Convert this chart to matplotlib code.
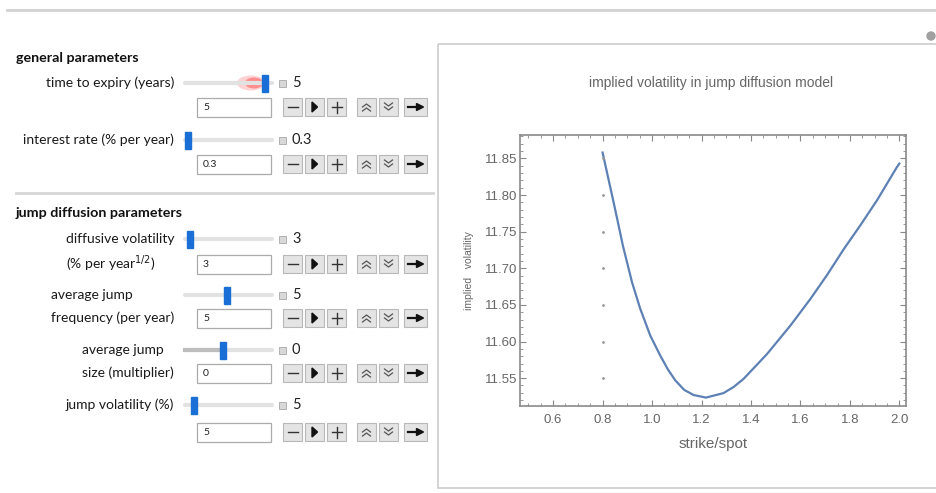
import matplotlib
matplotlib.use("Agg")
import matplotlib.pyplot as plt
from matplotlib.patches import Rectangle, Ellipse
from matplotlib.ticker import MultipleLocator

# Daten der Kurve
strike = [0.80, 0.84, 0.86, 0.882, 0.919, 0.952, 0.993, 1.033, 1.064, 1.094,
          1.13, 1.168, 1.218, 1.289, 1.33, 1.37, 1.465, 1.56, 1.64, 1.708,
          1.775, 1.843, 1.91, 1.99, 2.0]
impvol = [11.858, 11.797, 11.766, 11.731, 11.681, 11.645, 11.608, 11.581,
          11.562, 11.547, 11.534, 11.527, 11.5235, 11.5296, 11.538, 11.549,
          11.583, 11.622, 11.658, 11.691, 11.726, 11.759, 11.793, 11.838,
          11.843]

x_ticks = [0.6, 0.8, 1.0, 1.2, 1.4, 1.6, 1.8, 2.0]
y_ticks = [11.55, 11.60, 11.65, 11.70, 11.75, 11.80, 11.85]

# Steuerelemente
sections = ["general parameters", "jump diffusion parameters"]
labels = ["time to expiry (years)", "interest rate (% per year)",
          "diffusive volatility\n(% per year$^{1/2}$)",
          "average jump\nfrequency (per year)",
          "average jump\nsize (multiplier)", "jump volatility (%)"]
values = ["5", "0.3", "3", "5", "0", "5"]
slider_pos = [0.95, 0.0, 0.02, 0.48, 0.43, 0.07]

W, H = 936, 493
fig = plt.figure(figsize=(W / 100, H / 100), dpi=100)
fig.patch.set_facecolor("white")

# Hintergrund-Achse in Pixelkoordinaten
bg = fig.add_axes([0, 0, 1, 1], zorder=0)
bg.set_xlim(0, W)
bg.set_ylim(H, 0)
bg.axis("off")

ui_font = "Lato"
bg.plot([7, W], [10, 10], color="#d2d2d2", lw=2)
bg.add_patch(Rectangle((438, 44), 520, 444, fill=False, ec="#d0d0d0", lw=1.3))
bg.add_patch(Ellipse((931, 36), 8, 8, color="#a0a0a0"))
bg.plot([16, 433], [193, 193], color="#d6d6d6", lw=2)

bg.text(16, 58, sections[0], fontsize=10.3, fontweight="bold", family=ui_font,
        va="center", color="#111")
bg.text(16, 213, sections[1], fontsize=10.3, fontweight="bold", family=ui_font,
        va="center", color="#111")

slider_y = [83, 140, 239, 295, 350, 405]
box_y = [107, 164, 264, 318, 373, 432]
track_x0, track_x1 = 185, 272
renderer = fig.canvas.get_renderer()
lab_size = 10

for i, lab in enumerate(labels):
    sy, by = slider_y[i], box_y[i]
    lines = lab.split("\n")
    if len(lines) == 1:
        bg.text(174, sy, lab, ha="right", va="center", fontsize=lab_size,
                family=ui_font, color="#1a1a1a")
    else:
        t1 = bg.text(0, sy, lines[0], ha="left", va="center", fontsize=lab_size,
                     family=ui_font, color="#1a1a1a")
        t2 = bg.text(0, by, lines[1], ha="left", va="center", fontsize=lab_size,
                     family=ui_font, color="#1a1a1a")
        wpx = max(t.get_window_extent(renderer).width for t in (t1, t2))
        left = 174 - wpx
        t1.set_x(left)
        t2.set_x(left)

    # Schieberegler
    bg.plot([track_x0, track_x1], [sy, sy], color="#e2e2e2", lw=3,
            solid_capstyle="round")
    tx = track_x0 + 3 + slider_pos[i] * (track_x1 - track_x0 - 6)
    if i == 4:
        bg.plot([track_x0, tx], [sy, sy], color="#bdbdbd", lw=3)
    if i == 0:
        bg.add_patch(Ellipse((tx - 14, sy), 28, 15, color="#ff5050", alpha=0.25, lw=0))
        bg.add_patch(Ellipse((tx - 11, sy), 18, 11, color="#ff3838", alpha=0.45, lw=0))
    bg.add_patch(Rectangle((tx - 3, sy - 8.5), 6, 17, color="#1a6fd6", zorder=3))

    # kleines Symbol und Wert
    bg.add_patch(Rectangle((279, sy - 3.5), 7, 7, fc="#d8d8d8", ec="#a8a8a8", lw=0.6))
    bg.text(292, sy, values[i], ha="left", va="center", fontsize=10.5,
            family=ui_font, color="#222")

    # Eingabefeld
    bg.add_patch(Rectangle((197, by - 9.5), 74, 19, fc="white", ec="#ababab", lw=0.9))
    bg.text(203, by + 0.5, values[i], ha="left", va="center", fontsize=7.5,
            family=ui_font, color="#222")

    # Knoepfe
    btns = [(283, 19), (305, 19), (327, 19), (357, 19), (379, 19), (404, 23)]
    for bx, bw in btns:
        bg.add_patch(Rectangle((bx, by - 9), bw, 18, fc="#e4e4e4", ec="#b8b8b8", lw=0.8))
    cx = [b[0] + b[1] / 2 for b in btns]
    bg.plot([cx[0] - 5, cx[0] + 5], [by, by], color="#333", lw=1.0)
    bg.add_patch(plt.Polygon([[cx[1] - 2.5, by - 5], [cx[1] + 3, by], [cx[1] - 2.5, by + 5]],
                             color="#111"))
    bg.plot([cx[2] - 5, cx[2] + 5], [by, by], color="#333", lw=1.0)
    bg.plot([cx[2], cx[2]], [by - 5.5, by + 5.5], color="#333", lw=1.0)
    for d in (-3, 1):
        bg.plot([cx[3] - 4, cx[3], cx[3] + 4], [by + d + 3, by + d, by + d + 3],
                color="#555", lw=0.9)
        bg.plot([cx[4] - 4, cx[4], cx[4] + 4], [by + d - 1, by + d + 2, by + d - 1],
                color="#555", lw=0.9)
    bg.plot([cx[5] - 8, cx[5] + 3], [by, by], color="#111", lw=1.6)
    bg.add_patch(plt.Polygon([[cx[5] + 1, by - 3.5], [cx[5] + 8, by], [cx[5] + 1, by + 3.5]],
                             color="#111"))

# Diagramm
ax = fig.add_axes([520 / W, 1 - 406 / H, 386 / W, 271 / H], zorder=2)
ax.plot(strike, impvol, color="#5e81b5", lw=1.6)
ax.plot([0.8] * len(y_ticks), y_ticks, ls="none", marker="o", ms=1.0,
        color="#999")
ax.set_xlim(0.466, 2.027)
ax.set_ylim(11.512, 11.882)
ax.set_xticks(x_ticks)
ax.set_xticklabels([f"{v:.1f}" for v in x_ticks])
ax.set_yticks(y_ticks)
ax.set_yticklabels([f"{v:.2f}" for v in y_ticks])
ax.xaxis.set_minor_locator(MultipleLocator(0.05))
ax.yaxis.set_minor_locator(MultipleLocator(0.01))
ax.tick_params(which="both", direction="in", top=True, right=True,
               color="#888", labelcolor="#666", labelsize=9.5)
ax.tick_params(which="major", length=4, width=0.8)
ax.tick_params(which="minor", length=2.2, width=0.6)
ax.tick_params(axis="x", pad=6)
ax.tick_params(axis="y", pad=2)
for sp in ax.spines.values():
    sp.set_color("#8a8a8a")
    sp.set_linewidth(1.2)
for t in ax.get_xticklabels() + ax.get_yticklabels():
    t.set_family("Liberation Sans")

ax.set_xlabel("strike/spot", fontsize=11, color="#666", family="Liberation Sans",
              labelpad=8)
ax.set_ylabel("implied   volatility", fontsize=7.5, color="#666",
              family="Liberation Sans", labelpad=8)
bg.text(711, 83, "implied volatility in jump diffusion model", ha="center",
        va="center", fontsize=10, color="#666", family="Liberation Sans")

fig.savefig("out.png", dpi=100)
